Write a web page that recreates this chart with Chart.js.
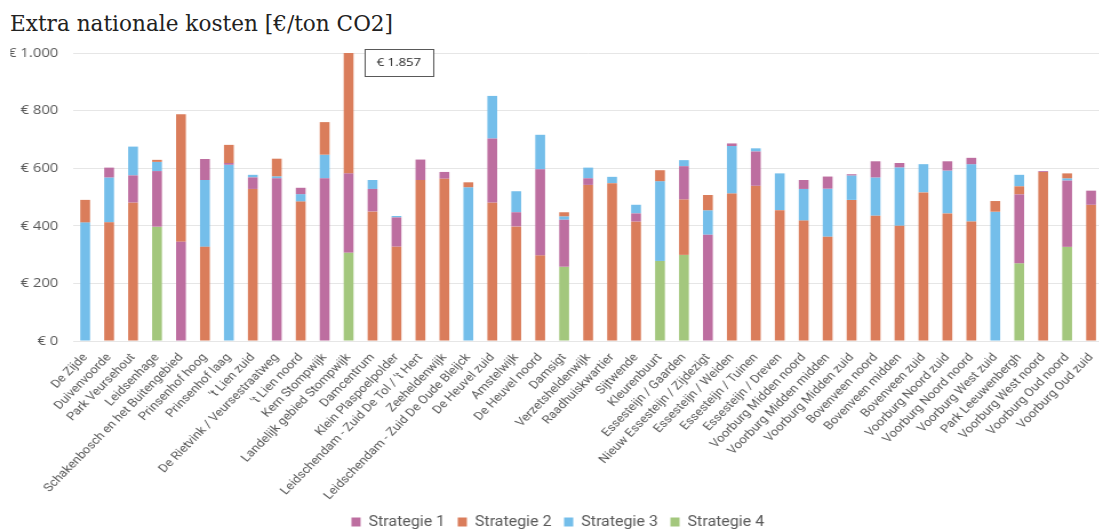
<!DOCTYPE html>
<html>
<head>
<meta charset="utf-8">
<script src="https://cdn.jsdelivr.net/npm/chart.js@4"></script>
<style>
  html, body { margin: 0; padding: 0; background: #fff; overflow: hidden; width: 1099px; height: 532px; }
  #titel { position: absolute; left: 10px; top: 12px; font-family: "DejaVu Serif", serif; font-size: 23px; line-height: 23px; color: #222; white-space: nowrap; transform-origin: 0 0; }
  #wrap { position: absolute; left: 0; top: 0; width: 967px; height: 539px; transform: scaleX(1.143); transform-origin: 0 0; }
  #grafiek { width: 967px; height: 539px; }
</style>
</head>
<body>
<div id="titel">Extra nationale kosten [€/ton CO2]</div>
<div id="wrap"><canvas id="grafiek" width="967" height="539"></canvas></div>
<script>
// wijken (categorieën)
const wijken = [
  "De Zijde", "Duivenvoorde", "Park Veursehout", "Leidsenhage", "Schakenbosch en het Buitengebied",
  "Prinsenhof hoog", "Prinsenhof laag", "'t Lien zuid", "De Rietvink / Veursestraatweg", "'t Lien noord",
  "Kern Stompwijk", "Landelijk gebied Stompwijk", "Damcentrum", "Klein Plaspoelpolder",
  "Leidschendam - Zuid De Tol / 't Hert", "Zeeheldenwijk", "Leidschendam - Zuid De Oude Bleijck",
  "De Heuvel zuid", "Amstelwijk", "De Heuvel noord", "Damsigt", "Verzetsheldenwijk", "Raadhuiskwartier",
  "Sijtwende", "Kleurenbuurt", "Essesteijn / Gaarden", "Nieuw Essesteijn / Zijdezigt", "Essesteijn / Weiden",
  "Essesteijn / Tuinen", "Essesteijn / Dreven", "Voorburg Midden noord", "Voorburg Midden midden",
  "Voorburg Midden zuid", "Bovenveen noord", "Bovenveen midden", "Bovenveen zuid", "Voorburg Noord zuid",
  "Voorburg Noord noord", "Voorburg West zuid", "Park Leeuwenbergh", "Voorburg West noord",
  "Voorburg Oud noord", "Voorburg Oud zuid"
];

// kosten per strategie [€/ton CO2]
const strategie1 = [null, 602, 575, 590, 345, 632, 618, 568, 565, 532, 565, 582, 528, 429, 630, 587, null, 703, 447, 596,
  421, 565, null, 443, null, 607, 369, 686, 658, null, 559, 571, 579, 624, 618, null, 624, 636, null, 509, 590, 557, 522];
const strategie2 = [490, 412, 481, 629, 787, 327, 681, 528, 633, 484, 760, 1857, 450, 328, 559, 564, 551, 481, 398, 298,
  447, 542, 548, 415, 593, 492, 507, 512, 539, 454, 418, 362, 490, 435, 400, 516, 443, 415, 486, 537, 587, 582, 473];
const strategie3 = [412, 568, 675, 622, null, 559, 612, 577, 572, 510, 647, null, 559, 434, null, null, 534, 851, 520, 716,
  433, 602, 570, 473, 555, 628, 454, 677, 669, 582, 528, 529, 575, 568, 603, 614, 592, 614, 449, 577, null, 565, null];
const strategie4 = [null, null, null, 397, null, null, null, null, null, null, null, 307, null, null, null, null, null, null, null, null,
  258, null, null, null, 278, 299, null, null, null, null, null, null, null, null, null, null, null, null, null, 270, null, 327, null];

const reeksen = [strategie1, strategie2, strategie3, strategie4];
const namen = ["Strategie 1", "Strategie 2", "Strategie 3", "Strategie 4"];
const kleuren = ["#BD6EA0", "#DA7D5B", "#74BEEA", "#A3C77D"];

// balken overlappen: elke waarde begint waar de volgende kleinere waarde ophoudt
function zwevend(reeks) {
  return reeks.map((v, i) => {
    if (v == null) return null;
    let basis = 0;
    reeksen.forEach(r => { if (r[i] != null && r[i] < v && r[i] > basis) basis = r[i]; });
    return [basis, v];
  });
}

function euro(v) {
  return "€ " + String(v).replace(/\B(?=(\d{3})+(?!\d))/g, ".");
}

// kader met de afgekapte waarde
const kaderPlugin = {
  id: "kader",
  afterDatasetsDraw(chart) {
    const ctx = chart.ctx;
    const x = chart.scales.x.getPixelForValue(11) + 14;
    const y = chart.scales.y.getPixelForValue(1000) - 4;
    ctx.save();
    ctx.fillStyle = "#fff";
    ctx.fillRect(x, y, 60, 27);
    ctx.strokeStyle = "#595959";
    ctx.lineWidth = 1;
    ctx.strokeRect(x + 0.5, y + 0.5, 60, 27);
    ctx.fillStyle = "#262626";
    ctx.font = '11.5px "Open Sans"';
    ctx.textAlign = "center";
    ctx.textBaseline = "middle";
    ctx.fillText(euro(strategie2[11]), x + 30, y + 14);
    ctx.restore();
  }
};

const ctx = document.getElementById("grafiek").getContext("2d");
new Chart(ctx, {
  type: "bar",
  data: {
    labels: wijken,
    datasets: reeksen.map((r, i) => ({
      label: namen[i],
      data: zwevend(r),
      backgroundColor: kleuren[i],
      grouped: false,
      categoryPercentage: 1,
      barPercentage: 0.41
    }))
  },
  options: {
    responsive: false,
    animation: false,
    layout: { padding: { left: 9, top: 53, right: 0, bottom: 0 } },
    scales: {
      x: {
        grid: { display: false },
        border: { display: false },
        afterFit: s => { s.height = 163; },
        ticks: { autoSkip: false, minRotation: 49, maxRotation: 49, color: "#595959", font: { family: "Roboto", size: 11.5 }, padding: 2 }
      },
      y: {
        min: 0,
        max: 1000,
        grid: { color: "#e6e6e6", drawTicks: false },
        border: { display: false },
        afterFit: s => { s.width = 55; },
        ticks: { stepSize: 200, color: "#595959", padding: 13, font: { family: "Open Sans", size: 13 }, callback: v => euro(v) }
      }
    },
    plugins: {
      legend: {
        position: "bottom",
        labels: { boxWidth: 8, boxHeight: 9, padding: 11, color: "#595959", font: { family: "Roboto", size: 14 } }
      },
      tooltip: {
        callbacks: { label: c => c.dataset.label + ": " + euro(c.raw[1]) }
      }
    }
  },
  plugins: [kaderPlugin]
});

// titel op breedte brengen
const titel = document.getElementById("titel");
titel.style.transform = "scaleX(" + (383 / titel.getBoundingClientRect().width) + ")";
</script>
</body>
</html>
